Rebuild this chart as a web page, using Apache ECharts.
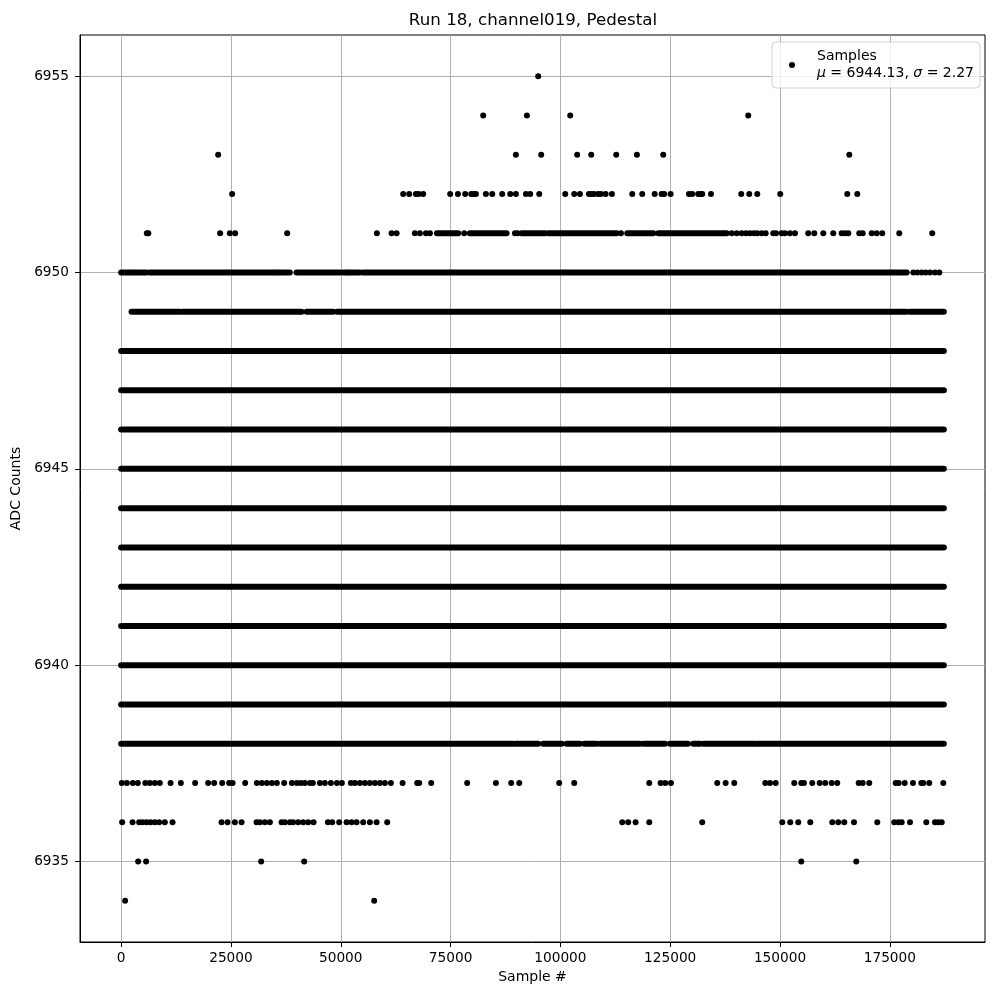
<!DOCTYPE html>
<html><head><meta charset="utf-8">
<script src="https://cdn.jsdelivr.net/npm/echarts@6/dist/echarts.min.js"></script>
<style>html,body{margin:0;padding:0;background:#fff}#c{width:1000px;height:1000px}</style>
</head><body><div id="c"></div>
<script>
// ---- tick labels ----
const xTicks = [0, 25000, 50000, 75000, 100000, 125000, 150000, 175000];
const yTicks = [6935, 6940, 6945, 6950, 6955];

// ---- rows that look solid: [firstSample, lastSample] runs per ADC level ----
const fullRun = [[0, 187300]];
const denseLevels = [6939, 6940, 6941, 6942, 6943, 6944, 6945, 6946, 6947, 6948];
const runs6951 = [[71890, 76740], [79400, 87750], [91170, 96480], [97230, 112800], [115220, 121140], [122280, 137850]];
const runs6950 = [[0, 2370], [2730, 5780], [6530, 35380], [35680, 38410], [39940, 49800], [50490, 51320], [51620, 54350], [55030, 178830]];
const runs6949 = [[2370, 13370], [13980, 40690], [42220, 48270], [49180, 178830], [179580, 187300]];
const runs6938 = [[0, 89260], [89870, 94950], [96090, 100280], [101420, 104450], [105430, 108250], [109000, 118110], [118860, 123800], [124940, 129040], [130240, 131770], [132520, 144350], [144820, 187300]];

// ---- isolated samples (sample index) per ADC level ----
const pts6955 = [94950];
const pts6954 = [82430, 92380, 102240, 142770];
const pts6953 = [22090, 89870, 95630, 103830, 107020, 112710, 117420, 123410, 165770];
const pts6952 = [25270, 64210, 65580, 67100, 67720, 68770, 74910, 76670, 78330, 79700, 80310, 80770, 83040, 84480, 86750, 88580, 89870, 92150, 93130, 95180, 101100, 103150, 104450, 106500, 107110, 107700, 108610, 109230, 110300, 111730, 116360, 118630, 121460, 123050, 123640, 125100, 129270, 130020, 131380, 131930, 132290, 134280, 141170, 143000, 144820, 150050, 165310, 167590];
const pts6951 = [5850, 6190, 22540, 24750, 25960, 37800, 58220, 61570, 62710, 66870, 68010, 69380, 70290, 78100, 89650, 90260, 113780, 138990, 140130, 141270, 142250, 143150, 144060, 144820, 145820, 146730, 148460, 149080, 150370, 151120, 152260, 153400, 156430, 157800, 159850, 162120, 164030, 164780, 165540, 168040, 168820, 170870, 172010, 173280, 177150, 184660];
const pts6950 = [180340, 181250, 182250, 183160, 184140, 185280, 186260];
const pts6949 = [41080];
const pts6937 = [160, 1300, 2660, 3800, 5510, 6540, 7670, 8810, 11250, 13590, 16850, 19810, 21180, 23000, 24590, 25370, 28240, 30900, 32040, 33180, 34310, 35450, 37120, 38870, 40010, 40920, 41830, 42970, 43650, 45240, 46380, 47750, 49120, 50250, 52300, 53210, 54350, 55490, 56630, 57770, 58910, 60040, 61410, 64080, 67400, 67860, 70590, 78780, 85320, 88800, 90630, 99730, 103150, 120230, 122820, 123870, 125170, 135710, 137620, 139580, 146640, 147710, 149010, 153240, 154840, 155450, 157340, 159030, 160300, 161760, 163030, 167910, 168820, 170320, 176330, 177010, 178380, 180270, 182160, 182620, 183980, 187170];
const pts6936 = [230, 2600, 4100, 4870, 5780, 6690, 7670, 8650, 9950, 11700, 22860, 24230, 25890, 27420, 30830, 31580, 32720, 33860, 36520, 37270, 38410, 39160, 40300, 41440, 42580, 43810, 47070, 48050, 49640, 51320, 52460, 53600, 55100, 56630, 58160, 60570, 114080, 115440, 117130, 120230, 132290, 150510, 152330, 154150, 156890, 161900, 163260, 164630, 166840, 172140, 176010, 176920, 177700, 179590, 183300, 185280, 186030, 186810];
const pts6935 = [3870, 5690, 31880, 41670, 154840, 167360];
const pts6934 = [910, 57610];

// ---- build series data ----
const runData = [];
denseLevels.forEach(l => fullRun.forEach(r => runData.push([r[0], r[1], l])));
[[6951, runs6951], [6950, runs6950], [6949, runs6949], [6938, runs6938]].forEach(([l, rs]) => rs.forEach(r => runData.push([r[0], r[1], l])));
const ptData = [];
[[6955, pts6955], [6954, pts6954], [6953, pts6953], [6952, pts6952], [6951, pts6951], [6950, pts6950], [6949, pts6949], [6937, pts6937], [6936, pts6936], [6935, pts6935], [6934, pts6934]].forEach(([l, ps]) => ps.forEach(x => ptData.push([x, l])));

const FONT = 'DejaVu Sans';
const DOT = 6;
const chart = echarts.init(document.getElementById('c'), null, { renderer: 'canvas' });
chart.setOption({
  animation: false,
  backgroundColor: '#fff',
  textStyle: { fontFamily: FONT },
  graphic: [{
    type: 'text', x: 533, y: 21,
    style: { text: 'Run 18, channel019, Pedestal', fontFamily: FONT, fontSize: 16.7, fill: '#000', align: 'center', verticalAlign: 'middle' }
  }],
  grid: { left: 80, right: 15, top: 35, bottom: 58, show: true, borderColor: '#000', borderWidth: 1, backgroundColor: 'transparent' },
  legend: {
    data: ['Samples'], left: 772, top: 42, orient: 'vertical',
    padding: [6, 6, 6, 17], itemWidth: 6, itemHeight: 6, icon: 'circle',
    borderColor: '#d0d0d0', borderWidth: 1, borderRadius: 4, backgroundColor: 'rgba(255,255,255,0.8)',
    itemStyle: { opacity: 1 },
    textStyle: {
      fontFamily: FONT, fontSize: 14, color: '#000', lineHeight: 17, padding: [0, 0, 0, 17],
      rich: {
        n: { fontFamily: FONT, fontSize: 14, lineHeight: 17, color: '#000' },
        i: { fontFamily: FONT, fontSize: 14, lineHeight: 17, fontStyle: 'italic', color: '#000' }
      }
    },
    formatter: () => '{n|Samples}\n{i|μ}{n| = 6944.13, }{i|σ}{n| = 2.27}'
  },
  xAxis: {
    type: 'value', min: -9365, max: 196665,
    name: 'Sample #', nameLocation: 'middle', nameGap: 28,
    nameTextStyle: { fontFamily: FONT, fontSize: 14, color: '#000' },
    axisLine: { show: true, onZero: false, lineStyle: { color: '#000', width: 1 } },
    axisTick: { show: true, inside: false, length: 5, customValues: xTicks, lineStyle: { color: '#000' } },
    axisLabel: { customValues: xTicks, margin: 9, fontFamily: FONT, fontSize: 13.7, color: '#000', formatter: v => String(v) },
    splitLine: { show: true, lineStyle: { color: '#b0b0b0', width: 1 } }
  },
  yAxis: {
    type: 'value', min: 6932.95, max: 6956.05,
    name: 'ADC Counts', nameLocation: 'middle', nameGap: 50,
    nameTextStyle: { fontFamily: FONT, fontSize: 14, color: '#000' },
    axisLine: { show: true, onZero: false, lineStyle: { color: '#000', width: 1 } },
    axisTick: { show: true, inside: false, length: 5, customValues: yTicks, lineStyle: { color: '#000' } },
    axisLabel: { customValues: yTicks, margin: 11, fontFamily: FONT, fontSize: 13.7, color: '#000', formatter: v => String(v) },
    splitLine: { show: true, lineStyle: { color: '#b0b0b0', width: 1 } }
  },
  series: [
    {
      name: 'runs', type: 'custom', data: runData, encode: { x: [0, 1], y: 2 }, silent: true, z: 2,
      renderItem: (params, api) => {
        const a = api.coord([api.value(0), api.value(2)]);
        const b = api.coord([api.value(1), api.value(2)]);
        const r = DOT / 2;
        return { type: 'rect', shape: { x: a[0] - r, y: a[1] - r, width: b[0] - a[0] + 2 * r, height: 2 * r, r: r }, style: { fill: '#000' } };
      }
    },
    {
      name: 'Samples', type: 'scatter', data: ptData, symbol: 'circle', symbolSize: DOT, z: 3,
      itemStyle: { color: '#000', opacity: 1 }
    }
  ]
});
</script></body></html>
